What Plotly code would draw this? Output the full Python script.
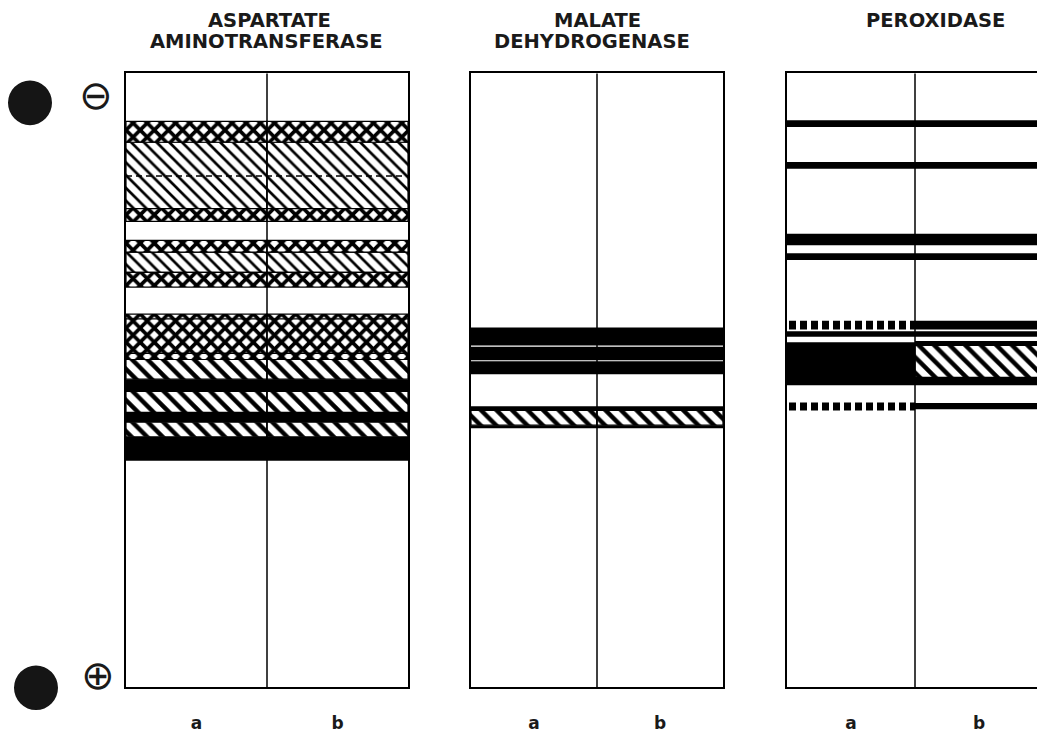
import plotly.graph_objects as go

# ---------------- data ----------------
# Relative migration scale: 0 = cathodal start (top of gel), 100 = anodal end (bottom)
LANES = ["a", "b"]
LANE_POS = {"a": 0.5, "b": 1.5}

# Aspartate aminotransferase (identical in lanes a and b)
AAT_LANE = ["ab"] * 15
AAT_TOP = [7.8, 11.2, 22.0, 27.2, 29.1, 32.4, 39.2, 40.0, 45.6, 46.6, 49.8, 51.8, 55.2, 56.8, 59.2]
AAT_BOTTOM = [11.2, 22.0, 24.1, 29.1, 32.4, 34.8, 40.0, 45.6, 46.6, 49.8, 51.8, 55.2, 56.8, 59.2, 63.1]
AAT_STYLE = ["cross", "hatch", "cross", "cross", "hatch", "cross", "cross", "cross", "cross",
             "hatch2", "solid", "hatch2", "solid", "hatch2", "solid"]
AAT_DASHED = [16.7]

# Malate dehydrogenase
MDH_LANE = ["ab"] * 6
MDH_TOP = [41.4, 44.5, 46.9, 54.2, 54.9, 57.3]
MDH_BOTTOM = [44.3, 46.7, 49.0, 54.9, 57.3, 57.8]
MDH_STYLE = ["solid", "solid", "solid", "solid", "hatch2", "solid"]
MDH_DASHED = []

# Peroxidase
PER_LANE = ["ab", "ab", "ab", "ab", "a", "b", "ab", "a", "b", "b", "b", "a", "b"]
PER_TOP = [7.6, 14.4, 26.1, 29.3, 40.3, 40.3, 42.0, 43.8, 43.6, 44.3, 49.5, 53.6, 53.7]
PER_BOTTOM = [8.7, 15.5, 28.0, 30.4, 41.7, 41.7, 42.9, 50.8, 44.3, 49.5, 50.8, 54.9, 54.7]
PER_STYLE = ["solid", "solid", "solid", "solid", "dots", "solid", "solid", "solid", "solid",
             "hatch2", "solid", "dots", "solid"]
PER_DASHED = []

PANEL_TITLES = [["ASPARTATE", "AMINOTRANSFERASE"], ["MALATE", "DEHYDROGENASE"], ["PEROXIDASE"]]

# ---------------- styling ----------------
STYLES = {
    "solid": dict(shape="", size=8, solidity=0.5, lw=0),
    "hatch": dict(shape="\\", size=9, solidity=0.3, lw=1.2),
    "hatch2": dict(shape="\\", size=11, solidity=0.4, lw=1.2),
    "cross": dict(shape="x", size=10, solidity=0.6, lw=1.2),
    "dots": dict(shape="|", size=11, solidity=0.64, lw=0),
}

W, H = 1037, 733
X_DOMAINS = [[126 / W, 408 / W], [471 / W, 723 / W], [787 / W, 1.0]]
X_RANGES = [[0, 2], [0, 2], [0, 1 + 122 / 128]]
Y_DOMAIN = [(H - 692) / H, (H - 74) / H]

panels = [
    (AAT_LANE, AAT_TOP, AAT_BOTTOM, AAT_STYLE, AAT_DASHED),
    (MDH_LANE, MDH_TOP, MDH_BOTTOM, MDH_STYLE, MDH_DASHED),
    (PER_LANE, PER_TOP, PER_BOTTOM, PER_STYLE, PER_DASHED),
]

fig = go.Figure()
layout = dict(
    width=W, height=H,
    margin=dict(l=0, r=0, t=0, b=0),
    paper_bgcolor="white", plot_bgcolor="white",
    barmode="overlay", showlegend=False,
    font=dict(family="DejaVu Sans", color="#1a1a1a"),
    shapes=[], annotations=[],
)

for i, (lanes, tops, bottoms, styles, dashed) in enumerate(panels):
    n = "" if i == 0 else str(i + 1)
    xa, ya = "x" + n, "y" + n
    for sname, st in STYLES.items():
        xs, bases, hs = [], [], []
        for ln, t, b, s in zip(lanes, tops, bottoms, styles):
            if s != sname:
                continue
            for lane in LANES:
                if lane in ln:
                    xs.append(LANE_POS[lane])
                    bases.append(t)
                    hs.append(b - t)
        if not xs:
            continue
        if sname == "solid":
            marker = dict(color="black", line=dict(width=0))
        else:
            marker = dict(color="white",
                          pattern=dict(shape=st["shape"], fgcolor="black", bgcolor="white",
                                       size=st["size"], solidity=st["solidity"], fillmode="replace"),
                          line=dict(color="black", width=st["lw"]))
        fig.add_trace(go.Bar(x=xs, y=hs, base=bases, width=[1] * len(xs), marker=marker,
                             xaxis=xa, yaxis=ya, hoverinfo="skip"))
    for d in dashed:
        fig.add_trace(go.Scatter(x=[0, 2], y=[d, d], mode="lines",
                                 line=dict(color="black", width=1.5, dash="6px,4px"),
                                 xaxis=xa, yaxis=ya, hoverinfo="skip"))
    layout["xaxis" + n] = dict(
        domain=X_DOMAINS[i], anchor=ya, range=X_RANGES[i],
        tickvals=[LANE_POS[l] for l in LANES], ticktext=LANES,
        showline=True, mirror=True, linecolor="black", linewidth=1.5,
        showgrid=False, zeroline=False, ticks="", ticklabelstandoff=20,
        tickfont=dict(size=17, family="DejaVu Sans", color="#1a1a1a", weight="bold"),
    )
    layout["yaxis" + n] = dict(
        domain=Y_DOMAIN, anchor=xa, range=[100, 0],
        showticklabels=False, showline=True, mirror=(i < 2),
        linecolor="black", linewidth=1.5, showgrid=False, zeroline=False, ticks="",
    )
    # lane divider
    layout["shapes"].append(dict(type="line", xref=xa, yref=ya + " domain",
                                 x0=1, x1=1, y0=0, y1=1, layer="above",
                                 line=dict(color="black", width=1.5)))

# titles
TITLE_POS = [[(269, 21), (266, 42)], [(597, 21), (592, 42)], [(935, 21)]]
for lines, poss in zip(PANEL_TITLES, TITLE_POS):
    for txt, (px, py) in zip(lines, poss):
        layout["annotations"].append(dict(
            text=txt, x=px / W, y=1 - py / H, xref="paper", yref="paper",
            xanchor="center", yanchor="middle", showarrow=False,
            font=dict(size=19.5, family="DejaVu Sans", color="#1a1a1a", weight="bold")))

# polarity symbols
for sym, (px, py) in [("⊖", (96, 96)), ("⊕", (98, 680))]:
    layout["annotations"].append(dict(
        text=sym, x=px / W, y=1 - py / H, xref="paper", yref="paper",
        xanchor="center", yanchor="middle", showarrow=False,
        font=dict(size=40, family="DejaVu Sans", color="#1a1a1a")))

# binder holes of the scanned page
for (x0, y0, x1, y1) in [(8, 81, 52, 126), (14, 670, 58, 715)]:
    layout["shapes"].append(dict(type="circle", xref="paper", yref="paper",
                                 x0=x0 / W, x1=x1 / W, y0=1 - y1 / H, y1=1 - y0 / H,
                                 fillcolor="#151515", line=dict(width=0)))

fig.update_layout(**layout)
fig.write_html("out.html", config={"displayModeBar": False},
               post_script="document.body.style.margin='0';")
